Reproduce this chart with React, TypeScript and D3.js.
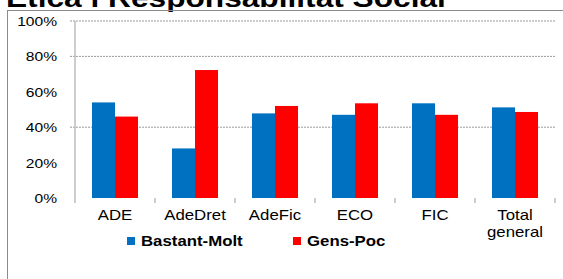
import React, { useEffect, useRef } from 'react';
import * as d3 from 'd3';

const categories = ['ADE', 'AdeDret', 'AdeFic', 'ECO', 'FIC', 'Total general'];
const seriesNames = ['Bastant-Molt', 'Gens-Poc'];
const bastantMolt = [0.54, 0.28, 0.478, 0.47, 0.535, 0.512];
const gensPoc = [0.46, 0.723, 0.52, 0.535, 0.47, 0.486];
const yTicks = [0, 0.2, 0.4, 0.6, 0.8, 1];
const gridValues = [0.4, 0.8, 1];
const colors = ['#0070C0', '#FF0000'];
const title = 'Ètica i Responsabilitat Social';

// the picture is stretched a bit horizontally, so text gets a horizontal scale
const SX = 1.2;

export default function App() {
  const svgRef = useRef<SVGSVGElement | null>(null);

  useEffect(() => {
    if (!svgRef.current) return;
    const W = 563;
    const H = 279;
    const svg = d3.select(svgRef.current);
    svg.selectAll('*').remove();
    svg.attr('width', W).attr('height', H);

    const font = '"Liberation Sans", Arial, sans-serif';

    const label = (x: number, y: number, txt: string, size: number, anchor: string, bold = false) =>
      svg.append('text')
        .attr('transform', `translate(${x},${y}) scale(${SX},1)`)
        .attr('text-anchor', anchor)
        .attr('font-family', font)
        .attr('font-size', size)
        .attr('font-weight', bold ? 'bold' : 'normal')
        .attr('fill', '#000')
        .text(txt);

    // title, cut at the top of the picture
    label(6, 6.5, title, 26.4, 'start', true);

    // chart border
    svg.append('rect')
      .attr('x', 7.5).attr('y', 10.5)
      .attr('width', 600).attr('height', 300)
      .attr('fill', 'none')
      .attr('stroke', '#8c8c8c')
      .attr('stroke-width', 1);

    const x = d3.scaleBand<string>()
      .domain(categories)
      .range([75, 555])
      .paddingInner(0.425)
      .paddingOuter(0.2125);

    const xs = d3.scaleBand<string>()
      .domain(seriesNames)
      .range([0, x.bandwidth()]);

    const y = d3.scaleLinear().domain([0, 1]).range([198, 21]);

    // gridlines
    svg.append('g')
      .selectAll('line')
      .data(gridValues)
      .join('line')
      .attr('x1', 70).attr('x2', 556)
      .attr('y1', d => y(d)).attr('y2', d => y(d))
      .attr('stroke', '#9a9a9a')
      .attr('stroke-width', 1)
      .attr('stroke-dasharray', '2 1');

    // y labels
    yTicks.forEach(t => {
      label(57, y(t) + 5, d3.format('.0%')(t), 13, 'end');
    });

    // bars
    const series = [bastantMolt, gensPoc];
    series.forEach((vals, si) => {
      svg.append('g')
        .selectAll('rect')
        .data(vals)
        .join('rect')
        .attr('x', (d, i) => (x(categories[i]) as number) + (xs(seriesNames[si]) as number))
        .attr('y', d => y(d))
        .attr('width', xs.bandwidth())
        .attr('height', d => y(0) - y(d))
        .attr('fill', colors[si]);
    });

    // y axis line
    svg.append('line')
      .attr('x1', 75).attr('x2', 75)
      .attr('y1', y(1)).attr('y2', 203)
      .attr('stroke', '#bdbdbd')
      .attr('stroke-width', 1.5);

    // x ticks between categories
    svg.append('g')
      .selectAll('line')
      .data(categories)
      .join('line')
      .attr('x1', d => (x(d) as number) + x.bandwidth() + x.step() * x.paddingInner() / 2)
      .attr('x2', d => (x(d) as number) + x.bandwidth() + x.step() * x.paddingInner() / 2)
      .attr('y1', 198).attr('y2', 203)
      .attr('stroke', '#bdbdbd')
      .attr('stroke-width', 1.5);

    // x labels
    categories.forEach(c => {
      const cx = (x(c) as number) + x.bandwidth() / 2;
      const words = c === 'Total general' ? ['Total', 'general'] : [c];
      words.forEach((w, i) => label(cx, 220 + i * 16.5, w, 14, 'middle'));
    });

    // legend
    const legendX = [127, 293];
    seriesNames.forEach((s, i) => {
      svg.append('rect')
        .attr('x', legendX[i]).attr('y', 237)
        .attr('width', 8).attr('height', 8)
        .attr('fill', colors[i]);
      label(legendX[i] + 14, 245.5, s, 14, 'start', true);
    });
  }, []);

  return <svg ref={svgRef} style={{ position: 'absolute', left: 0, top: 0, display: 'block' }} />;
}
